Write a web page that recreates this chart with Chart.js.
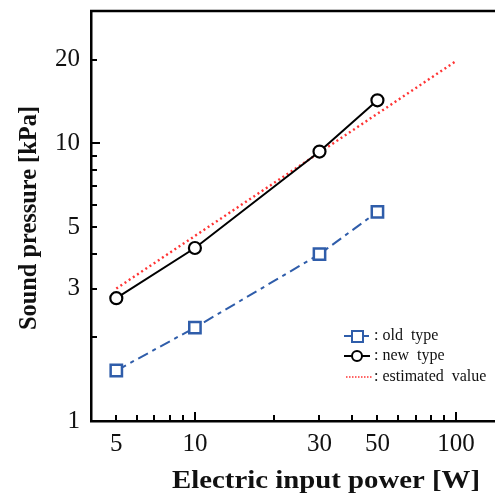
<!DOCTYPE html>
<html>
<head>
<meta charset="utf-8">
<script src="https://cdn.jsdelivr.net/npm/chart.js@4"></script>
<style>
  html, body { margin: 0; padding: 0; background: #fff; overflow: hidden; }
  #wrap { width: 495px; height: 495px; }
</style>
</head>
<body>
<div id="wrap"><canvas id="soundChart" width="495" height="495"></canvas></div>
<script>
// data
const powerW = [5, 10, 30, 50]
const oldType = [1.52, 2.17, 3.99, 5.67]
const newType = [2.77, 4.2, 9.35, 14.3]
const estPower = [5, 100]
const estValue = [3.0, 19.8]

// ticks
const xTickLabels = [5, 10, 30, 50, 100]
const xTicksAll = [5, 6, 7, 8, 9, 10, 20, 30, 40, 50, 60, 70, 80, 90, 100]
const xMajor = [10, 100]
const yTickLabels = [1, 3, 5, 10, 20]
const yTicksAll = [1, 2, 3, 4, 5, 6, 7, 8, 9, 10, 20]
const yMajor = [1, 10]

const blue = "#2f5daa"
const red = "#ff3333"
const serif = "'Liberation Serif', 'Times New Roman', serif"

const toPoints = (xs, ys) => xs.map((x, i) => ({ x: x, y: ys[i] }))

// inward ticks, top border, axis titles and the little legend box
const decorations = {
  id: "decorations",
  afterDraw(chart) {
    const ctx = chart.ctx
    const area = chart.chartArea
    const xs = chart.scales.x
    const ys = chart.scales.y
    ctx.save()
    ctx.strokeStyle = "#000"
    ctx.lineWidth = 2
    xTicksAll.forEach((v) => {
      const px = Math.round(xs.getPixelForValue(v))
      const len = xMajor.includes(v) ? 9 : 6
      ctx.beginPath()
      ctx.moveTo(px, area.bottom)
      ctx.lineTo(px, area.bottom - len)
      ctx.stroke()
    })
    yTicksAll.forEach((v) => {
      const py = Math.round(ys.getPixelForValue(v))
      const len = yMajor.includes(v) ? 9 : 6
      ctx.beginPath()
      ctx.moveTo(area.left, py)
      ctx.lineTo(area.left + len, py)
      ctx.stroke()
    })
    // frame: top edge (right edge is off the picture)
    ctx.lineWidth = 2.5
    ctx.beginPath()
    ctx.moveTo(area.left - 1, area.top)
    ctx.lineTo(area.right, area.top)
    ctx.stroke()

    // axis titles, stretched a bit like in the scan
    ctx.fillStyle = "#111"
    ctx.font = "bold 25px " + serif
    ctx.textBaseline = "alphabetic"
    ctx.textAlign = "left"
    const xt = "Electric input power [W]"
    let w = ctx.measureText(xt).width
    ctx.save()
    ctx.translate(172, 488)
    ctx.scale(308 / w, 1)
    ctx.fillText(xt, 0, 0)
    ctx.restore()

    const yt = "Sound pressure [kPa]"
    w = ctx.measureText(yt).width
    ctx.save()
    ctx.translate(36, 330)
    ctx.rotate(-Math.PI / 2)
    ctx.scale(224 / w, 1)
    ctx.fillText(yt, 0, 0)
    ctx.restore()

    // legend
    ctx.font = "16px " + serif
    ctx.textBaseline = "middle"
    const lx = 344
    const rows = [336, 356, 377]

    ctx.strokeStyle = blue
    ctx.lineWidth = 2
    ctx.beginPath()
    ctx.moveTo(lx, rows[0]); ctx.lineTo(lx + 8, rows[0])
    ctx.moveTo(lx + 19, rows[0]); ctx.lineTo(lx + 25, rows[0])
    ctx.stroke()
    ctx.fillStyle = "#fff"
    ctx.fillRect(lx + 8, rows[0] - 5, 11, 11)
    ctx.strokeRect(lx + 8, rows[0] - 5, 11, 11)

    ctx.strokeStyle = "#000"
    ctx.beginPath()
    ctx.moveTo(lx, rows[1]); ctx.lineTo(lx + 26, rows[1])
    ctx.stroke()
    ctx.beginPath()
    ctx.arc(lx + 13, rows[1], 5, 0, Math.PI * 2)
    ctx.fill()
    ctx.stroke()

    ctx.strokeStyle = red
    ctx.setLineDash([1.5, 1.5])
    ctx.lineWidth = 1.5
    ctx.beginPath()
    ctx.moveTo(lx + 2, rows[2]); ctx.lineTo(lx + 28, rows[2])
    ctx.stroke()
    ctx.setLineDash([])

    ctx.fillStyle = "#111"
    ctx.fillText(": old  type", lx + 30, rows[0])
    ctx.fillText(": new  type", lx + 30, rows[1])
    ctx.fillText(": estimated  value", lx + 30, rows[2])
    ctx.restore()
  },
}

const canvas = document.getElementById("soundChart")
new Chart(canvas, {
  type: "line",
  data: {
    datasets: [
      {
        label: "estimated value",
        data: toPoints(estPower, estValue),
        borderColor: red,
        borderWidth: 2.4,
        borderDash: [2, 3],
        pointRadius: 0,
        fill: false,
        order: 3,
      },
      {
        label: "old type",
        data: toPoints(powerW, oldType),
        borderColor: blue,
        borderWidth: 2,
        borderDash: [11, 5, 4, 5],
        pointStyle: "rect",
        pointRadius: 8,
        pointBorderWidth: 2.5,
        pointBackgroundColor: "#fff",
        pointBorderColor: blue,
        fill: false,
        order: 2,
      },
      {
        label: "new type",
        data: toPoints(powerW, newType),
        borderColor: "#000",
        borderWidth: 2,
        pointStyle: "circle",
        pointRadius: 6,
        pointBorderWidth: 2.2,
        pointBackgroundColor: "#fff",
        pointBorderColor: "#000",
        fill: false,
        order: 1,
      },
    ],
  },
  options: {
    responsive: false,
    animation: false,
    devicePixelRatio: 1,
    layout: { autoPadding: false, padding: { top: 11, right: 0, left: 0, bottom: 0 } },
    plugins: {
      legend: { display: false },
      tooltip: { enabled: false },
    },
    scales: {
      x: {
        type: "logarithmic",
        min: 4,
        max: 141,
        afterBuildTicks: (scale) => {
          scale.ticks = xTicksAll.map((v) => ({ value: v }))
        },
        afterFit: (scale) => {
          scale.height = 74
          scale.paddingLeft = 0
          scale.paddingRight = 0
        },
        grid: { display: false, drawTicks: false },
        border: { display: true, color: "#000", width: 2.5 },
        ticks: {
          autoSkip: false,
          maxRotation: 0,
          padding: 8,
          color: "#111",
          font: { family: serif, size: 25 },
          callback: (v) => (xTickLabels.includes(v) ? String(v) : ""),
        },
      },
      y: {
        type: "logarithmic",
        min: 1,
        max: 30,
        afterBuildTicks: (scale) => {
          scale.ticks = yTicksAll.map((v) => ({ value: v }))
        },
        afterFit: (scale) => {
          scale.width = 91
          scale.paddingTop = 0
          scale.paddingBottom = 0
        },
        grid: { display: false, drawTicks: false },
        border: { display: true, color: "#000", width: 2.5 },
        ticks: {
          autoSkip: false,
          padding: 11,
          color: "#111",
          font: { family: serif, size: 25 },
          callback: (v) => (yTickLabels.includes(v) ? String(v) : ""),
        },
      },
    },
  },
  plugins: [decorations],
})
</script>
</body>
</html>
